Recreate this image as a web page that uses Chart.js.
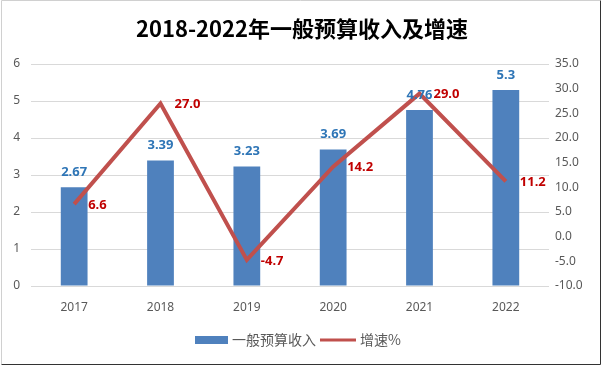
<!DOCTYPE html>
<html>
<head>
<meta charset="utf-8">
<script src="https://cdn.jsdelivr.net/npm/chart.js@4"></script>
<style>
  html, body { margin: 0; padding: 0; background: #fff; }
  #wrap { width: 603px; height: 367px; position: relative; }
</style>
</head>
<body>
<div id="wrap"><canvas id="chart" width="603" height="367"></canvas></div>
<script>
const years = ['2017', '2018', '2019', '2020', '2021', '2022'];
const income = [2.67, 3.39, 3.23, 3.69, 4.76, 5.3];
const growth = [6.6, 27.0, -4.7, 14.2, 29.0, 11.2];
const incomeLabels = ['2.67', '3.39', '3.23', '3.69', '4.76', '5.3'];
const growthLabels = ['6.6', '27.0', '-4.7', '14.2', '29.0', '11.2'];

const titleText = '2018-2022年一般预算收入及增速';
const barColor = '#4F81BD';
const lineColor = '#C0504D';
const axisText = '#595959';
const baseFont = '"Noto Sans", "Noto Sans CJK SC", sans-serif';

// titles, value labels, legend and frame are drawn here
const decorations = {
    id: 'decorations',
    afterDatasetsDraw(chart) {
        const ctx = chart.ctx;
        ctx.save();

        // bar labels
        ctx.font = 'bold 13px ' + baseFont;
        ctx.fillStyle = '#2E75B6';
        ctx.textAlign = 'center';
        ctx.textBaseline = 'middle';
        chart.getDatasetMeta(0).data.forEach((bar, i) => {
            ctx.fillText(incomeLabels[i], bar.x, bar.y - 15);
        });

        // line labels
        ctx.fillStyle = '#C00000';
        ctx.textAlign = 'left';
        chart.getDatasetMeta(1).data.forEach((pt, i) => {
            ctx.fillText(growthLabels[i], pt.x + 14, pt.y + 1);
        });

        // title
        ctx.font = 'bold 22px "Noto Sans CJK SC", sans-serif';
        ctx.fillStyle = '#000';
        ctx.textAlign = 'center';
        ctx.fillText(titleText, 302, 29);

        // legend
        const ly = 340;
        ctx.font = '14px "Noto Sans CJK SC", sans-serif';
        ctx.fillStyle = barColor;
        ctx.fillRect(195, ly - 4, 33, 8);
        ctx.fillStyle = axisText;
        ctx.textAlign = 'left';
        ctx.fillText(chart.data.datasets[0].label, 232, ly);
        const w1 = ctx.measureText(chart.data.datasets[0].label).width;
        const lx = 232 + w1 + 4;
        ctx.strokeStyle = lineColor;
        ctx.lineWidth = 3;
        ctx.beginPath();
        ctx.moveTo(lx, ly);
        ctx.lineTo(lx + 36, ly);
        ctx.stroke();
        ctx.fillText(chart.data.datasets[1].label, lx + 40, ly);

        // frame
        ctx.lineWidth = 1;
        ctx.strokeStyle = '#d0d0d0';
        ctx.beginPath();
        ctx.moveTo(1.5, 364);
        ctx.lineTo(1.5, 0.5);
        ctx.lineTo(600, 0.5);
        ctx.stroke();
        ctx.strokeStyle = '#333';
        ctx.beginPath();
        ctx.moveTo(1.5, 364.5);
        ctx.lineTo(600.5, 364.5);
        ctx.lineTo(600.5, 0.5);
        ctx.stroke();
        ctx.restore();
    }
};

new Chart(document.getElementById('chart'), {
    data: {
        labels: years,
        datasets: [
            {
                type: 'bar',
                label: '一般预算收入',
                data: income,
                backgroundColor: barColor,
                yAxisID: 'y',
                barPercentage: 0.62,
                categoryPercentage: 0.5,
                order: 2
            },
            {
                type: 'line',
                label: '增速%',
                data: growth,
                borderColor: lineColor,
                backgroundColor: lineColor,
                borderWidth: 4,
                pointRadius: 0,
                tension: 0,
                yAxisID: 'y1',
                order: 1
            }
        ]
    },
    options: {
        responsive: false,
        animation: false,
        layout: { padding: { top: 64, bottom: 51, left: 0, right: 0 } },
        plugins: {
            legend: { display: false },
            title: { display: false },
            tooltip: { enabled: false }
        },
        scales: {
            x: {
                grid: { display: false },
                border: { display: false },
                ticks: { color: axisText, font: { family: baseFont, size: 12 }, padding: 6 },
                afterFit: s => { s.height = 30; }
            },
            y: {
                position: 'left',
                min: 0, max: 6,
                ticks: { stepSize: 1, color: axisText, font: { family: baseFont, size: 12 }, padding: 11 },
                grid: { color: '#d9d9d9', drawTicks: false },
                border: { display: false },
                afterFit: s => { s.width = 31; }
            },
            y1: {
                position: 'right',
                min: -10, max: 35,
                ticks: {
                    stepSize: 5, color: axisText, font: { family: baseFont, size: 12 }, padding: 6,
                    callback: v => v.toFixed(1)
                },
                grid: { display: false, drawTicks: false },
                border: { display: false },
                afterFit: s => { s.width = 54; }
            }
        }
    },
    plugins: [decorations]
});
</script>
</body>
</html>
